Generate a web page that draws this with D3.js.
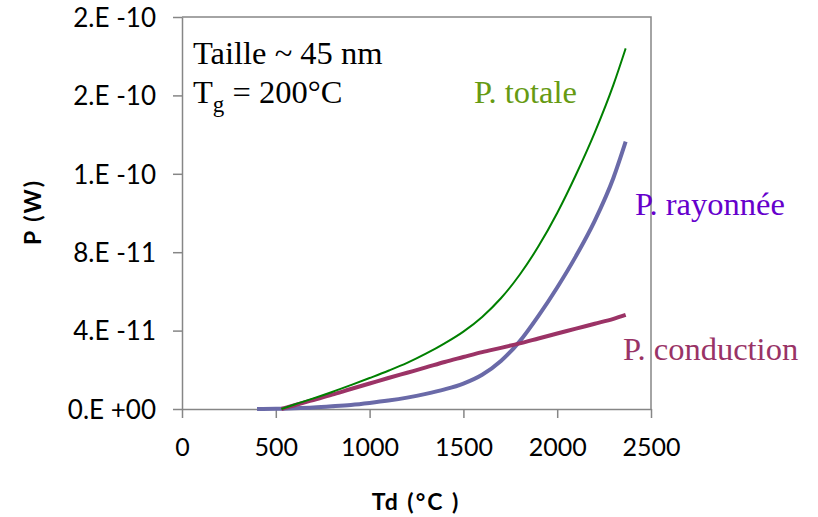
<!DOCTYPE html>
<html>
<head>
<meta charset="utf-8">
<script src="https://cdn.jsdelivr.net/npm/d3@7"></script>
<style>
  body { margin: 0; background: #fff; }
  svg { display: block; }
</style>
</head>
<body>
<div id="container"></div>
<script>
/* DATA */
const tdRad = [400, 500, 600, 700, 800, 900, 1000, 1100, 1200, 1300, 1400, 1500, 1600, 1700, 1800, 1900, 2000, 2100, 2200, 2300, 2365];
const pRad = [0, 1e-13, 4e-13, 8e-13, 1.4e-12, 2.1e-12, 3.1e-12, 4.3e-12, 5.8e-12, 7.7e-12, 1.0e-11, 1.3e-11, 1.75e-11, 2.45e-11, 3.45e-11, 4.75e-11, 6.2e-11, 7.8e-11, 9.6e-11, 1.18e-10, 1.364e-10];

const tdCond = [530, 600, 700, 800, 900, 1000, 1100, 1200, 1300, 1400, 1500, 1600, 1700, 1800, 1900, 2000, 2100, 2200, 2300, 2365];
const pCond = [0, 1.9e-12, 4.6e-12, 7.3e-12, 1.02e-11, 1.3e-11, 1.58e-11, 1.85e-11, 2.12e-11, 2.4e-11, 2.65e-11, 2.9e-11, 3.12e-11, 3.35e-11, 3.6e-11, 3.85e-11, 4.1e-11, 4.35e-11, 4.6e-11, 4.8e-11];

const tdTot = [530, 600, 700, 800, 900, 1000, 1100, 1200, 1300, 1400, 1500, 1600, 1700, 1800, 1900, 2000, 2100, 2200, 2300, 2365];
const pTot = [0, 2.3e-12, 5.4e-12, 8.7e-12, 1.22e-11, 1.58e-11, 1.95e-11, 2.35e-11, 2.82e-11, 3.35e-11, 3.95e-11, 4.7e-11, 5.65e-11, 6.85e-11, 8.3e-11, 1.0e-10, 1.195e-10, 1.41e-10, 1.655e-10, 1.84e-10];

const xTicks = [0, 500, 1000, 1500, 2000, 2500];
const yTicks = [0, 4e-11, 8e-11, 1.2e-10, 1.6e-10, 2e-10];
const yTickLabels = ["0.E +00", "4.E -11", "8.E -11", "1.E -10", "2.E -10", "2.E -10"];

/* CONSTANTS */
const width = 818, height = 517;
const margin = { top: 17, right: 167, bottom: 108, left: 182 };
const axisColor = "#868686";

const svg = d3.select("#container")
  .append("svg")
  .attr("width", width)
  .attr("height", height);

/* SCALES */
const xScale = d3.scaleLinear()
  .domain([0, 2500])
  .range([margin.left, width - margin.right]);

const yScale = d3.scaleLinear()
  .domain([0, 2e-10])
  .range([height - margin.bottom, margin.top]);

// plot box (top and right border)
svg.append("path")
  .attr("d", `M${xScale(0)},${yScale(2e-10)} H${xScale(2500)} V${yScale(0)}`)
  .attr("fill", "none")
  .attr("stroke", axisColor)
  .attr("stroke-width", 1.5);

/* AXES */
const xAxis = d3.axisBottom(xScale)
  .tickValues(xTicks)
  .tickFormat(d3.format("d"))
  .tickSize(9)
  .tickPadding(20)
  .tickSizeOuter(0);

const gx = svg.append("g")
  .attr("transform", `translate(0,${yScale(0)})`)
  .call(xAxis);

const yAxis = d3.axisLeft(yScale)
  .tickValues(yTicks)
  .tickFormat((d, i) => yTickLabels[i])
  .tickSize(9)
  .tickPadding(17)
  .tickSizeOuter(0);

const gy = svg.append("g")
  .attr("transform", `translate(${xScale(0)},0)`)
  .call(yAxis);

[gx, gy].forEach(g => {
  g.select(".domain").attr("stroke", axisColor).attr("stroke-width", 1.5);
  g.selectAll(".tick line").attr("stroke", axisColor).attr("stroke-width", 1.5);
  g.selectAll(".tick text")
    .attr("fill", "#000")
    .style("font-family", "Lato, 'Open Sans', sans-serif")
    .style("font-size", "25px");
});
gy.selectAll(".tick text").attr("dy", "0.36em").style("font-size", "26px");

/* LINES */
const line = d3.line()
  .x(d => xScale(d[0]))
  .y(d => yScale(d[1]))
  .curve(d3.curveMonotoneX);

const series = [
  { td: tdRad, p: pRad, color: "#6a6aa8", w: 4 },
  { td: tdCond, p: pCond, color: "#9b3366", w: 4 },
  { td: tdTot, p: pTot, color: "#008000", w: 2 }
];

svg.selectAll("path.curve")
  .data(series)
  .join("path")
  .attr("class", "curve")
  .attr("fill", "none")
  .attr("stroke", d => d.color)
  .attr("stroke-width", d => d.w)
  .attr("d", d => line(d.td.map((t, i) => [t, d.p[i]])));

/* ANNOTATIONS */
const serif = "'Liberation Serif', 'Times New Roman', serif";
const noteSize = "32.5px";

const note = svg.append("g")
  .style("font-family", serif)
  .style("font-size", noteSize)
  .attr("fill", "#000");

note.append("text").attr("x", 193).attr("y", 64).text("Taille ~ 45 nm");
const tg = note.append("text").attr("x", 193).attr("y", 103);
tg.append("tspan").text("T");
tg.append("tspan").attr("dy", 9).style("font-size", "23px").text("g");
tg.append("tspan").attr("dy", -9).text(" = 200°C");

svg.append("text")
  .attr("x", 474).attr("y", 103)
  .style("font-family", serif).style("font-size", noteSize)
  .attr("fill", "#669a12")
  .text("P. totale");

svg.append("text")
  .attr("x", 635).attr("y", 215)
  .style("font-family", serif).style("font-size", noteSize)
  .attr("fill", "#6600cc")
  .text("P. rayonnée");

svg.append("text")
  .attr("x", 623).attr("y", 360)
  .style("font-family", serif).style("font-size", noteSize)
  .attr("fill", "#993366")
  .text("P. conduction");

/* AXIS TITLES */
svg.append("text")
  .attr("transform", `translate(41,212) rotate(-90)`)
  .style("text-anchor", "middle")
  .style("font-family", "Lato, 'Open Sans', sans-serif")
  .style("font-weight", "bold")
  .style("font-size", "23px")
  .style("letter-spacing", "2px")
  .text("P (W)");

svg.append("text")
  .attr("x", 416).attr("y", 510)
  .style("text-anchor", "middle")
  .style("font-family", "Lato, 'Open Sans', sans-serif")
  .style("font-weight", "bold")
  .style("font-size", "23px")
  .style("letter-spacing", "2px")
  .text("Td (°C )");
</script>
</body>
</html>
